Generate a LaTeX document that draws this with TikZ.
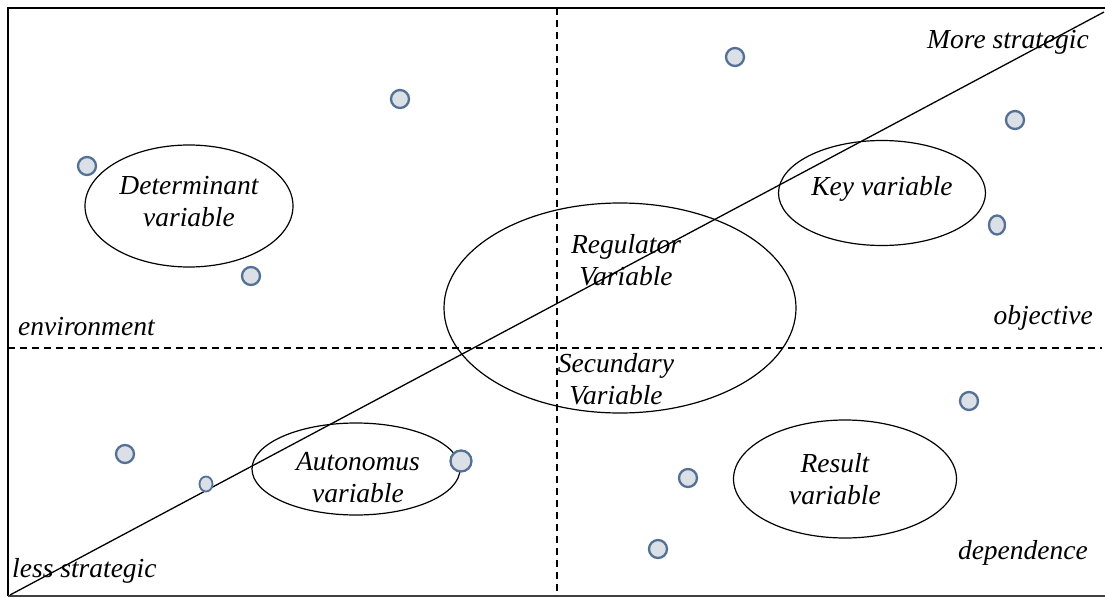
\documentclass[tikz,border=0pt]{standalone}
\usepackage{fontspec}
\setmainfont{Liberation Serif}
\usetikzlibrary{shapes.geometric}
\definecolor{dotline}{RGB}{84,112,148}
\definecolor{dotfill}{RGB}{218,224,230}
\begin{document}
\begin{tikzpicture}[x=1pt,y=-1pt,
  frame/.style={line width=2.6pt,black},
  divider/.style={line width=1.6pt,dash pattern=on 7pt off 5pt},
  diag/.style={line width=1.3pt},
  oval/.style={draw,ellipse,line width=1.2pt,inner sep=0pt},
  dot/.style={draw=dotline,fill=dotfill,line width=2.3pt,circle,inner sep=0pt,minimum size=18pt},
  lbl/.style={font=\fontsize{27.5}{32}\selectfont\itshape,align=center,inner sep=0pt,text=black}]
\useasboundingbox (0,0) rectangle (1105,597);
% frame
\coordinate (tr) at (1105,8);
\coordinate (tl) at (8,8);
\coordinate (bl) at (8,596);
\coordinate (br) at (1105,596);
\draw[frame] (tr) -- (tl) -- (bl);
\draw[line width=2pt,black!75] (bl) -- (br);
% dividers
\coordinate (vt) at (557,8);
\coordinate (vb) at (557,596);
\coordinate (hl) at (8,348);
\coordinate (hr) at (1102,348);
\draw[divider] (vt) -- (vb);
\draw[divider] (hl) -- (hr);
% diagonal
\coordinate (d1) at (10,595);
\coordinate (d2) at (1104,12);
\draw[diag] (d1) -- (d2);
% ellipses
\node[oval,minimum width=208pt,minimum height=122pt] (det) at (189,206) {};
\node[oval,minimum width=352pt,minimum height=210pt] (reg) at (620,308) {};
\node[oval,minimum width=207pt,minimum height=105pt] (key) at (882,193) {};
\node[oval,minimum width=208pt,minimum height=92pt] (aut) at (356,469) {};
\node[oval,minimum width=223pt,minimum height=118pt] (res) at (845,479) {};
% dots
\node[dot] (c1) at (735,57) {};
\node[dot] (c2) at (1015,120) {};
\node[dot] (c3) at (400,99) {};
\node[dot] (c4) at (87,166) {};
\node[dot] (c5) at (251,276) {};
\node[dot,ellipse,minimum width=16pt,minimum height=19pt] (c6) at (997,225) {};
\node[dot] (c7) at (125,454) {};
\node[dot,ellipse,minimum width=13pt,minimum height=15pt,line width=1.8pt] (c8) at (206,484) {};
\node[dot,minimum size=21pt] (c9) at (461,461) {};
\node[dot] (c10) at (688,478) {};
\node[dot] (c11) at (658,549) {};
\node[dot] (c12) at (969,401) {};
% labels
\node[lbl] (t1) at (1008,42) {More strategic};
\node[lbl] (t2) at (189,202) {Determinant\\variable};
\node[lbl] (t3) at (882,189) {Key variable};
\node[lbl] (t4) at (626,260) {Regulator\\Variable};
\node[lbl,anchor=west] (t5) at (18,327) {environment};
\node[lbl,anchor=east] (t6) at (1093,318) {objective};
\node[lbl] (t7) at (616,379) {Secundary\\Variable};
\node[lbl] (t8) at (358,478) {Autonomus\\variable};
\node[lbl] (t9) at (835,479) {Result\\variable};
\node[lbl,anchor=west] (t10) at (12,571) {less strategic};
\node[lbl,anchor=east] (t11) at (1088,553) {dependence};
\end{tikzpicture}
\end{document}
